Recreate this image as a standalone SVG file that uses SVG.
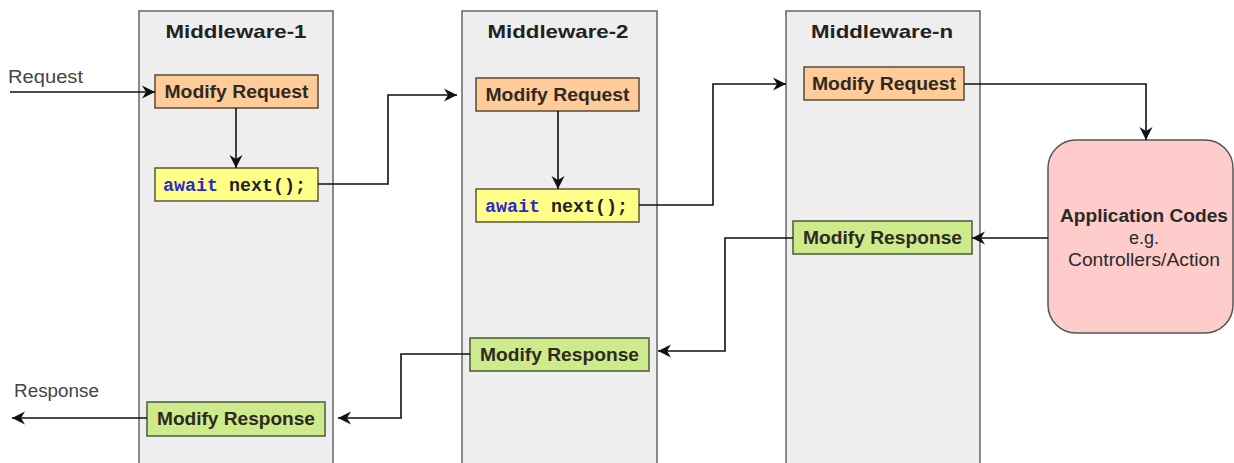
<svg xmlns="http://www.w3.org/2000/svg" width="1234" height="463" viewBox="0 0 1234 463">
<style>
.mw{fill:#eeeeee;stroke:#666666;stroke-width:1.5}
.req{fill:#ffcc99;stroke:#5a4a3a;stroke-width:1.5}
.res{fill:#cdeb8b;stroke:#4a5a3a;stroke-width:1.5}
.aw{fill:#ffff88;stroke:#5a5a3a;stroke-width:1.5}
.app{fill:#ffcccc;stroke:#555555;stroke-width:1.5}
.t{font-family:"Liberation Sans",Arial,sans-serif;fill:#2a2a2a}
.b{font-weight:bold}
.title{font-size:19px;font-weight:bold;fill:#222}
.box{font-size:18px;font-weight:bold;fill:#2e2a22}
.lbl{font-size:18px;fill:#444}
.mono{font-family:"Liberation Mono","DejaVu Sans Mono",monospace;font-size:18px;font-weight:bold}
.kw{fill:#2a2ad0}
.conn{fill:none;stroke:#111;stroke-width:1.6}
</style>
<defs>
<marker id="ah" markerUnits="userSpaceOnUse" markerWidth="14" markerHeight="14" viewBox="0 0 14 14" refX="13" refY="7" orient="auto">
<path d="M0,0.5 L13,7 L0,13.5 L4,7 z" fill="#111"/>
</marker>
</defs>
<rect width="1234" height="463" fill="#ffffff"/>

<g id="middleware-1">
<rect class="mw" x="139" y="11" width="194" height="460"/>
<text class="t title" x="236" y="38" text-anchor="middle" textLength="141" lengthAdjust="spacingAndGlyphs">Middleware-1</text>
</g>
<g id="middleware-2">
<rect class="mw" x="462" y="11" width="195" height="460"/>
<text class="t title" x="558" y="38" text-anchor="middle" textLength="141" lengthAdjust="spacingAndGlyphs">Middleware-2</text>
</g>
<g id="middleware-n">
<rect class="mw" x="786" y="11" width="194" height="460"/>
<text class="t title" x="882" y="38" text-anchor="middle" textLength="142" lengthAdjust="spacingAndGlyphs">Middleware-n</text>
</g>

<g id="modify-request-1">
<rect class="req" x="155" y="75" width="163" height="33"/>
<text class="t box" x="236.5" y="98" text-anchor="middle" textLength="144" lengthAdjust="spacingAndGlyphs">Modify Request</text>
</g>
<g id="await-next-1">
<rect class="aw" x="155" y="168" width="163" height="33"/>
<text class="mono" x="163" y="191" textLength="143" lengthAdjust="spacingAndGlyphs"><tspan class="kw">await</tspan><tspan fill="#222"> next();</tspan></text>
</g>
<g id="modify-request-2">
<rect class="req" x="476" y="78" width="163" height="33"/>
<text class="t box" x="557.5" y="101" text-anchor="middle" textLength="144" lengthAdjust="spacingAndGlyphs">Modify Request</text>
</g>
<g id="await-next-2">
<rect class="aw" x="476" y="189" width="163" height="33"/>
<text class="mono" x="485" y="212" textLength="143" lengthAdjust="spacingAndGlyphs"><tspan class="kw">await</tspan><tspan fill="#222"> next();</tspan></text>
</g>
<g id="modify-request-n">
<rect class="req" x="804" y="67" width="160" height="33"/>
<text class="t box" x="884" y="90" text-anchor="middle" textLength="144" lengthAdjust="spacingAndGlyphs">Modify Request</text>
</g>
<g id="modify-response-n">
<rect class="res" x="793" y="221" width="179" height="33"/>
<text class="t box" x="882.5" y="244" text-anchor="middle" textLength="159" lengthAdjust="spacingAndGlyphs">Modify Response</text>
</g>
<g id="modify-response-2">
<rect class="res" x="470" y="338" width="179" height="33"/>
<text class="t box" x="559.5" y="361" text-anchor="middle" textLength="159" lengthAdjust="spacingAndGlyphs">Modify Response</text>
</g>
<g id="modify-response-1">
<rect class="res" x="147" y="402" width="178" height="34"/>
<text class="t box" x="236" y="425" text-anchor="middle" textLength="158" lengthAdjust="spacingAndGlyphs">Modify Response</text>
</g>
<g id="application-codes">
<rect class="app" x="1048" y="140" width="185" height="193" rx="28" ry="28"/>
<text class="t b" x="1144" y="222" text-anchor="middle" font-size="18" textLength="168" lengthAdjust="spacingAndGlyphs">Application Codes</text>
<text class="t" x="1144" y="244" text-anchor="middle" font-size="18">e.g.</text>
<text class="t" x="1144" y="266" text-anchor="middle" font-size="18" textLength="152" lengthAdjust="spacingAndGlyphs">Controllers/Action</text>
</g>

<g id="connectors">
<path class="conn" d="M10,92 H155" marker-end="url(#ah)"/>
<text class="t lbl" x="8" y="83" textLength="75" lengthAdjust="spacingAndGlyphs">Request</text>
<path class="conn" d="M236,108 V168" marker-end="url(#ah)"/>
<path class="conn" d="M318,184 H388 V95 H457" marker-end="url(#ah)"/>
<path class="conn" d="M558,111 V189" marker-end="url(#ah)"/>
<path class="conn" d="M639,205 H713 V84 H786" marker-end="url(#ah)"/>
<path class="conn" d="M964,84 H1146 V140" marker-end="url(#ah)"/>
<path class="conn" d="M1048,238 H972" marker-end="url(#ah)"/>
<path class="conn" d="M793,238 H725 V351 H658" marker-end="url(#ah)"/>
<path class="conn" d="M470,354 H401 V418 H338" marker-end="url(#ah)"/>
<path class="conn" d="M147,418 H12" marker-end="url(#ah)"/>
<text class="t lbl" x="14" y="397" textLength="85" lengthAdjust="spacingAndGlyphs">Response</text>
</g>
</svg>
